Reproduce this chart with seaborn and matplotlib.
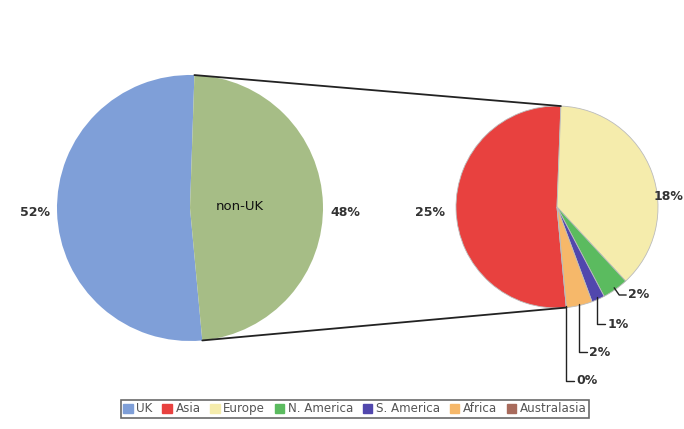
import numpy as np
import matplotlib
matplotlib.use("Agg")
import matplotlib.pyplot as plt
import seaborn as sns

# outer pie: UK vs non-UK
main_labels = ["UK", "non-UK"]
main_values = [52, 48]
main_colors = ["#7f9fd8", "#a6bd86"]

# breakdown of the non-UK part
sub_labels = ["Asia", "Europe", "N. America", "S. America", "Africa", "Australasia"]
sub_values = [25, 18, 2, 1, 2, 0]
sub_colors = ["#e8413f", "#f5ecac", "#5bbb5f", "#5147ad", "#f6b86a", "#a86b5c"]

sns.set_theme(style="white")
plt.rcParams["font.family"] = ["DejaVu Sans"]

fig = plt.figure(figsize=(6.84, 4.29), dpi=100)
ax = fig.add_axes([0, 0, 1, 1])

# centers / radii in pixel-like units (y up)
c1, r1 = (190, 221), 133
c2, r2 = (557, 222), 101
start = 275.3

w1, _ = ax.pie(main_values, colors=main_colors, startangle=start, counterclock=False,
               center=c1, radius=r1, wedgeprops=dict(linewidth=0))
w2, _ = ax.pie(sub_values, colors=sub_colors, startangle=start, counterclock=False,
               center=c2, radius=r2, wedgeprops=dict(linewidth=0.6, edgecolor="#bbbbbb"))

ax.set_xlim(0, 684)
ax.set_ylim(0, 429)
ax.set_aspect("equal")
ax.axis("off")

# connector lines between the pies (from the non-UK wedge edges)
a_top = np.deg2rad(w1[1].theta2)
a_bot = np.deg2rad(w1[1].theta1)
b_top = np.deg2rad(w2[0].theta1)
b_bot = np.deg2rad(w2[0].theta2)
for a, b in [(a_top, b_top), (a_bot, b_bot)]:
    ax.plot([c1[0] + r1 * np.cos(a), c2[0] + r2 * np.cos(b)],
            [c1[1] + r1 * np.sin(a), c2[1] + r2 * np.sin(b)],
            color="#222222", lw=1.3, solid_capstyle="round")

lab = dict(fontsize=9, fontweight="bold", color="#333333", va="center")
ax.text(35, 217, f"{main_values[0]}%", ha="center", **lab)
ax.text(345, 217, f"{main_values[1]}%", ha="center", **lab)
ax.text(240, 222, main_labels[1], ha="center", va="center", fontsize=9.5, color="#111111")
ax.text(430, 217, f"{sub_values[0]}%", ha="center", **lab)
ax.text(683, 232, f"{sub_values[1]}%", ha="right", **lab)

# leader labels for the small slices
label_y = [134, 105, 77, 48]
for i, (w, v, ly) in enumerate(zip(w2[2:], sub_values[2:], label_y)):
    mid = np.deg2rad((w.theta1 + w.theta2) / 2)
    x0 = c2[0] + r2 * 0.98 * np.cos(mid)
    y0 = c2[1] + r2 * 0.98 * np.sin(mid)
    if i == 0:
        ax.plot([x0, x0 + 5, x0 + 12], [y0, ly, ly], color="#222222", lw=1)
        ax.text(x0 + 14, ly, f"{v}%", ha="left", **lab)
    else:
        ax.plot([x0, x0, x0 + 8], [y0, ly, ly], color="#222222", lw=1)
        ax.text(x0 + 10, ly, f"{v}%", ha="left", **lab)

handles = [plt.Rectangle((0, 0), 1, 1, color=c) for c in [main_colors[0]] + sub_colors]
names = [main_labels[0]] + sub_labels
leg = ax.legend(handles, names, loc="lower center", bbox_to_anchor=(0.519, 0.012),
                ncol=7, fontsize=8.6, frameon=True, fancybox=False, handlelength=0.8,
                handleheight=0.8, handletextpad=0.3, columnspacing=0.8,
                borderpad=0.2, labelcolor="#555555")
leg.get_frame().set_edgecolor("#444444")
leg.get_frame().set_linewidth(1.2)

fig.savefig("out.png", dpi=100)
